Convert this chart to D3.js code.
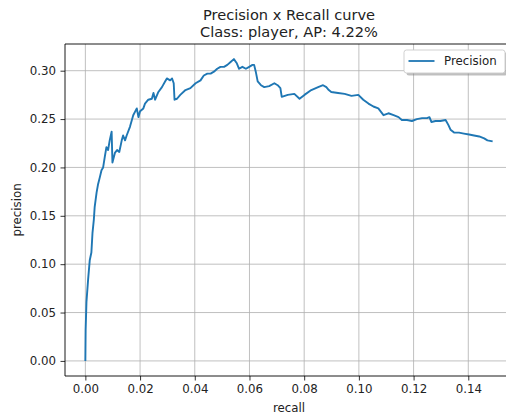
<!DOCTYPE html>
<html>
<head>
<meta charset="utf-8">
<script src="https://cdn.jsdelivr.net/npm/d3@7/dist/d3.min.js"></script>
<style>
  html, body { margin: 0; padding: 0; background: #fff; }
  svg { display: block; font-family: "DejaVu Sans", sans-serif; }
</style>
</head>
<body>
<svg id="chart" width="506" height="420"></svg>
<script>
// Precision / recall pairs along the curve
const recall = [
  0.0000, 0.0001, 0.0004, 0.0010, 0.0016, 0.0022, 0.0026, 0.0031, 0.0034, 0.0041,
  0.0046, 0.0053, 0.0059, 0.0065, 0.0071, 0.0077, 0.0083, 0.0089, 0.0096, 0.0099,
  0.0108, 0.0116, 0.0124, 0.0133, 0.0138, 0.0145, 0.0151, 0.0163, 0.0175, 0.0188,
  0.0194, 0.0200, 0.0212, 0.0218, 0.0230, 0.0243, 0.0249, 0.0255, 0.0267, 0.0280,
  0.0292, 0.0298, 0.0310, 0.0317, 0.0323, 0.0326, 0.0335, 0.0347, 0.0366, 0.0384,
  0.0403, 0.0421, 0.0433, 0.0446, 0.0458, 0.0470, 0.0482, 0.0494, 0.0507, 0.0519,
  0.0531, 0.0543, 0.0553, 0.0562, 0.0574, 0.0587, 0.0599, 0.0611, 0.0617, 0.0623,
  0.0630, 0.0642, 0.0654, 0.0672, 0.0691, 0.0703, 0.0713, 0.0718, 0.0740, 0.0764,
  0.0783, 0.0801, 0.0826, 0.0851, 0.0869, 0.0881, 0.0890, 0.0899, 0.0924, 0.0948,
  0.0973, 0.0998, 0.1016, 0.1035, 0.1053, 0.1071, 0.1090, 0.1108, 0.1127, 0.1145,
  0.1157, 0.1176, 0.1194, 0.1212, 0.1231, 0.1249, 0.1258, 0.1265, 0.1280, 0.1298,
  0.1317, 0.1327, 0.1335, 0.1348, 0.1366, 0.1384, 0.1403, 0.1421, 0.1440, 0.1458,
  0.1470, 0.1489
];
const precision = [
  0.000, 0.032, 0.061, 0.084, 0.104, 0.112, 0.132, 0.146, 0.159, 0.174,
  0.182, 0.190, 0.197, 0.200, 0.211, 0.221, 0.218, 0.228, 0.237, 0.205,
  0.215, 0.218, 0.216, 0.228, 0.233, 0.228, 0.233, 0.242, 0.254, 0.261,
  0.252, 0.258, 0.261, 0.266, 0.270, 0.271, 0.277, 0.270, 0.278, 0.283,
  0.289, 0.292, 0.290, 0.292, 0.287, 0.270, 0.271, 0.275, 0.280, 0.282,
  0.287, 0.290, 0.295, 0.297, 0.297, 0.299, 0.302, 0.304, 0.304, 0.306,
  0.309, 0.312, 0.308, 0.302, 0.304, 0.302, 0.304, 0.306, 0.306, 0.299,
  0.289, 0.285, 0.283, 0.284, 0.287, 0.285, 0.282, 0.273, 0.275, 0.276,
  0.271, 0.275, 0.280, 0.283, 0.285, 0.283, 0.280, 0.278, 0.277, 0.276,
  0.274, 0.275, 0.270, 0.266, 0.263, 0.261, 0.254, 0.256, 0.254, 0.252,
  0.249, 0.249, 0.248, 0.250, 0.251, 0.251, 0.252, 0.247, 0.248, 0.248,
  0.249, 0.244, 0.239, 0.236, 0.236, 0.235, 0.234, 0.233, 0.232, 0.230,
  0.228, 0.227
];

const xTicks = [0.00, 0.02, 0.04, 0.06, 0.08, 0.10, 0.12, 0.14];
const yTicks = [0.00, 0.05, 0.10, 0.15, 0.20, 0.25, 0.30];
const titleLines = ["Precision x Recall curve", "Class: player, AP: 4.22%"];
const seriesName = "Precision";

(function draw() {
  const svg = d3.select("#chart");
  const plotL = 65, plotR = 513, plotT = 44, plotB = 376;
  const lineColor = "#1f77b4";
  const fontSize = 11.8;

  // axis ranges padded by 5% around the data
  const xMax = d3.max(recall), yMax = d3.max(precision);
  const x = d3.scaleLinear().domain([-0.05 * xMax, 1.05 * xMax]).range([plotL, plotR]);
  const y = d3.scaleLinear().domain([-0.05 * yMax, 1.05 * yMax]).range([plotB, plotT]);

  svg.append("defs").append("clipPath").attr("id", "plot-clip")
    .append("rect").attr("x", plotL).attr("y", plotT)
    .attr("width", plotR - plotL).attr("height", plotB - plotT);

  // grid
  const grid = svg.append("g").attr("stroke", "#b0b0b0").attr("stroke-width", 0.8);
  grid.selectAll(".gx").data(xTicks).join("line").attr("class", "gx")
    .attr("x1", d => x(d)).attr("x2", d => x(d))
    .attr("y1", plotT).attr("y2", plotB);
  grid.selectAll(".gy").data(yTicks).join("line").attr("class", "gy")
    .attr("x1", plotL).attr("x2", plotR)
    .attr("y1", d => y(d)).attr("y2", d => y(d));

  // curve
  const pts = recall.map((r, i) => [r, precision[i]]);
  svg.append("path")
    .datum(pts)
    .attr("clip-path", "url(#plot-clip)")
    .attr("fill", "none")
    .attr("stroke", lineColor)
    .attr("stroke-width", 1.9)
    .attr("stroke-linejoin", "round")
    .attr("d", d3.line().x(d => x(d[0])).y(d => y(d[1])));

  // axes
  const xAxis = d3.axisBottom(x).tickValues(xTicks).tickFormat(d3.format(".2f"))
    .tickSizeInner(4.5).tickSizeOuter(0).tickPadding(4.5);
  const yAxis = d3.axisLeft(y).tickValues(yTicks).tickFormat(d3.format(".2f"))
    .tickSizeInner(4.5).tickSizeOuter(0).tickPadding(4.5);

  const gx = svg.append("g").attr("transform", `translate(0,${plotB})`).call(xAxis);
  const gy = svg.append("g").attr("transform", `translate(${plotL},0)`).call(yAxis);
  [gx, gy].forEach(g => {
    g.select(".domain").remove();
    g.selectAll("line").attr("stroke", "#000").attr("stroke-width", 0.8);
    g.selectAll("text").attr("fill", "#222").style("font-size", fontSize + "px")
      .style("font-family", "DejaVu Sans");
  });

  // spines
  const spines = svg.append("g").attr("stroke", "#000").attr("stroke-width", 0.9).attr("fill", "none");
  spines.append("line").attr("x1", plotL).attr("x2", plotL).attr("y1", plotT).attr("y2", plotB);
  spines.append("line").attr("x1", plotL).attr("x2", plotR).attr("y1", plotB).attr("y2", plotB);
  spines.append("line").attr("x1", plotL).attr("x2", plotR).attr("y1", plotT).attr("y2", plotT);
  spines.append("line").attr("x1", plotR).attr("x2", plotR).attr("y1", plotT).attr("y2", plotB);

  // axis labels
  svg.append("text")
    .attr("x", (plotL + plotR) / 2).attr("y", 412)
    .attr("text-anchor", "middle").attr("fill", "#222")
    .style("font-size", fontSize + "px").text("recall");
  svg.append("text")
    .attr("transform", `translate(21,${(plotT + plotB) / 2}) rotate(-90)`)
    .attr("text-anchor", "middle").attr("fill", "#222")
    .style("font-size", fontSize + "px").text("precision");

  // two-line title
  svg.append("g").selectAll("text").data(titleLines).join("text")
    .attr("x", (plotL + plotR) / 2)
    .attr("y", (d, i) => 20 + i * 16.5)
    .attr("text-anchor", "middle").attr("fill", "#222")
    .style("font-size", "14.6px")
    .text(d => d);

  // legend with drop shadow
  const lgX = 404, lgY = 50, lgW = 101, lgH = 23;
  const legend = svg.append("g");
  legend.append("rect")
    .attr("x", lgX + 2.5).attr("y", lgY + 2.5).attr("width", lgW).attr("height", lgH)
    .attr("rx", 2.5).attr("fill", "#7f7f7f").attr("opacity", 0.5);
  legend.append("rect")
    .attr("x", lgX).attr("y", lgY).attr("width", lgW).attr("height", lgH)
    .attr("rx", 2.5).attr("fill", "#fff").attr("stroke", "#cccccc").attr("stroke-width", 0.9);
  legend.append("line")
    .attr("x1", lgX + 4.5).attr("x2", lgX + 30.5)
    .attr("y1", lgY + 11).attr("y2", lgY + 11)
    .attr("stroke", lineColor).attr("stroke-width", 1.8);
  legend.append("text")
    .attr("x", lgX + 40).attr("y", lgY + 15.3)
    .attr("fill", "#222").style("font-size", fontSize + "px")
    .text(seriesName);
})();
</script>
</body>
</html>
